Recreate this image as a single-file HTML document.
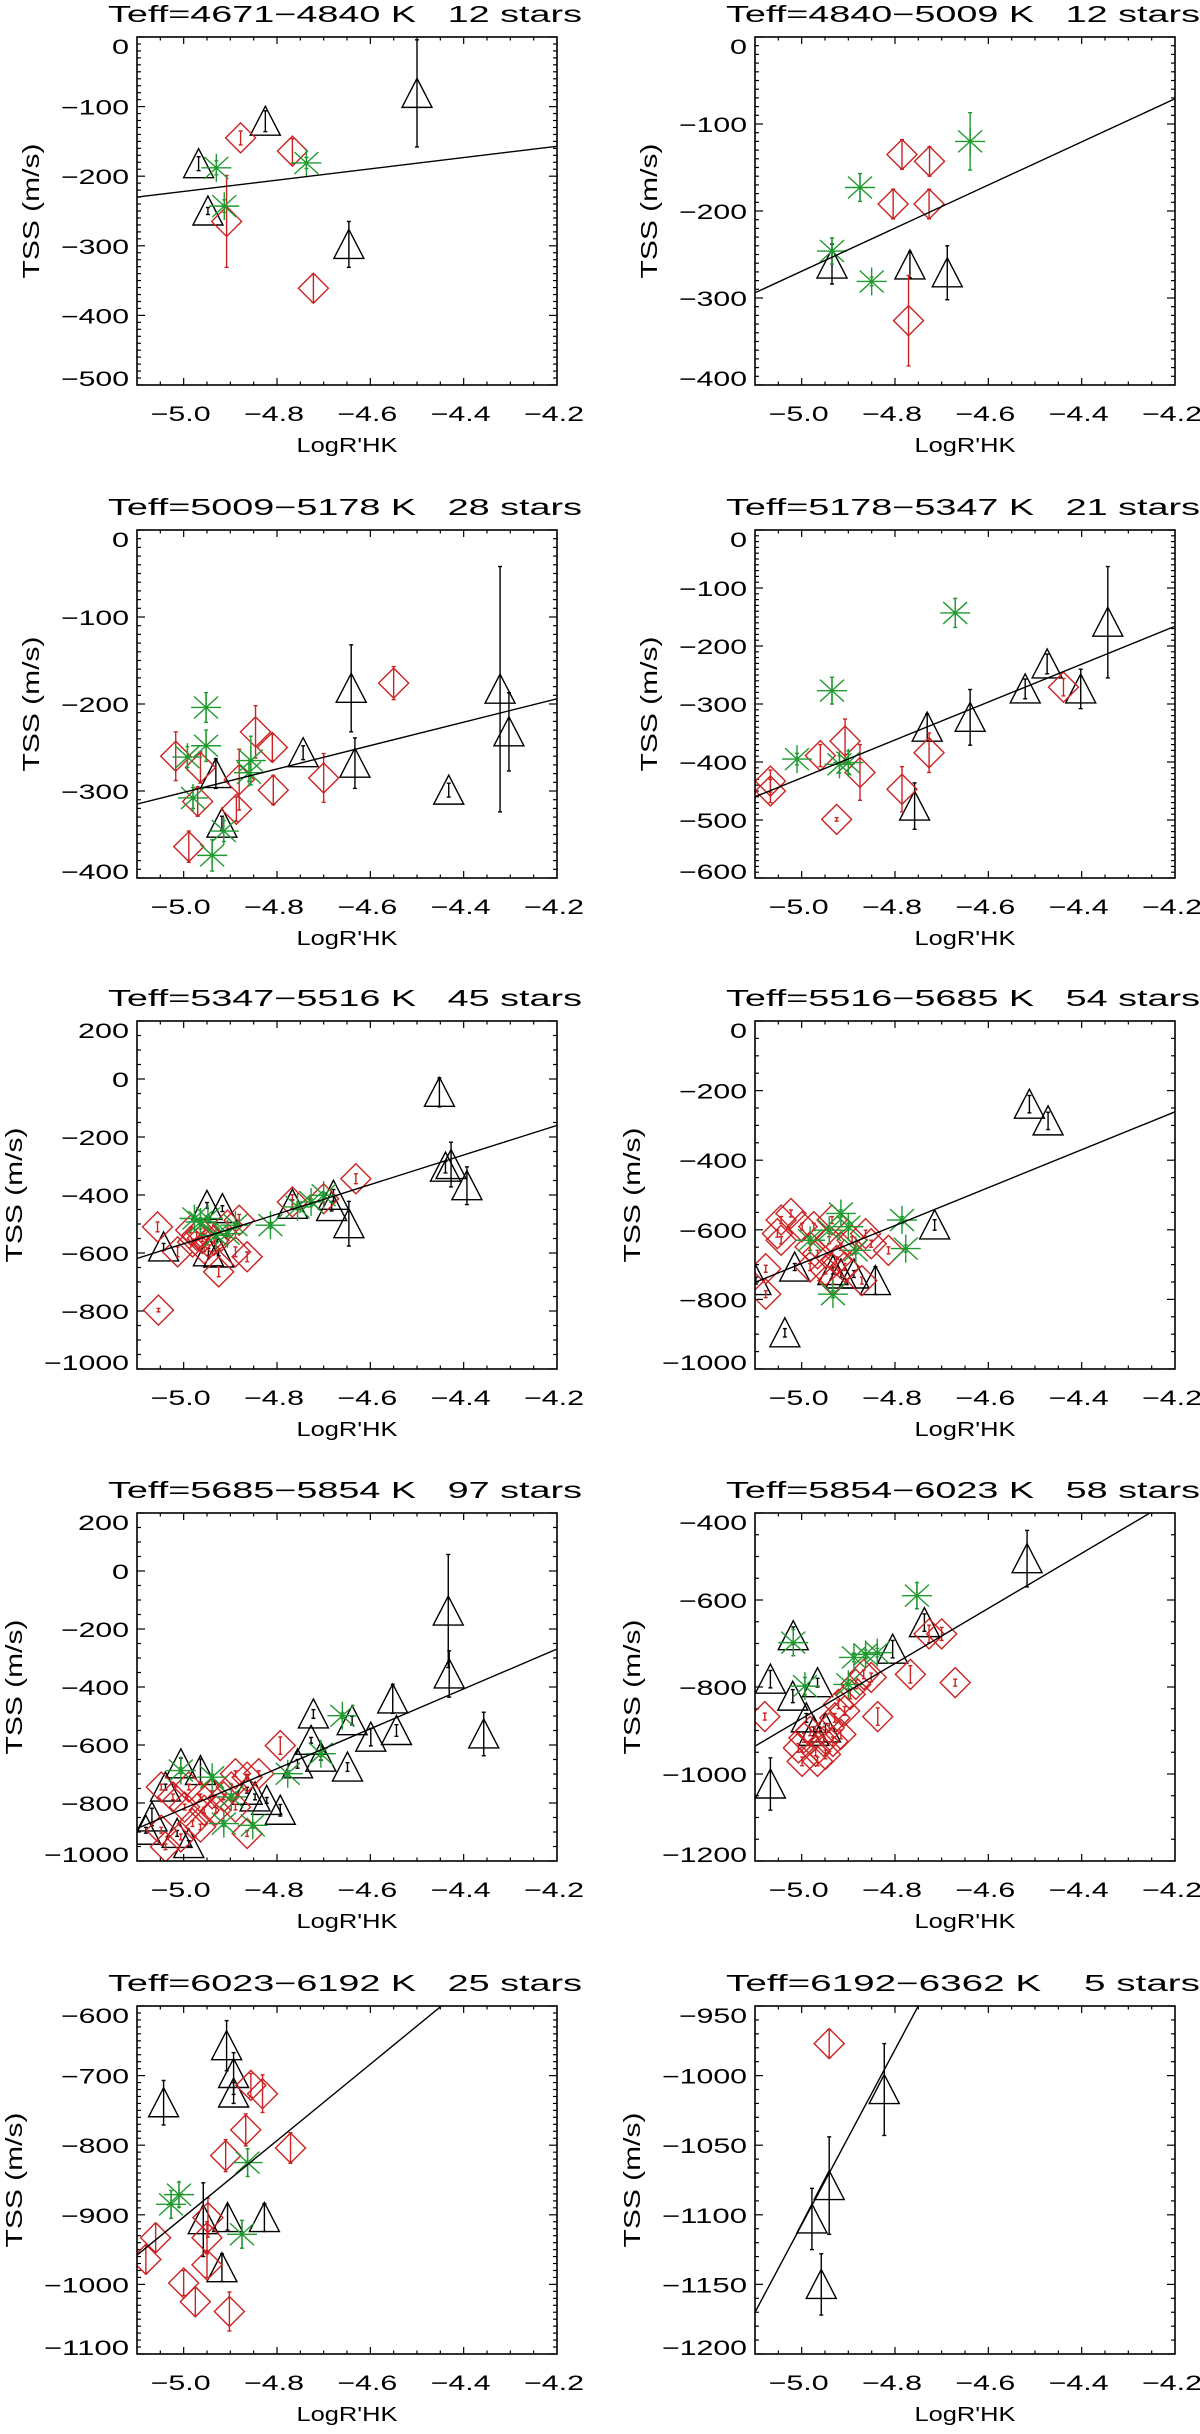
<!DOCTYPE html>
<html><head><meta charset="utf-8"><title>TSS vs LogR'HK by Teff bin</title>
<style>
html,body{margin:0;padding:0;background:#fff;}
svg text{font-family:"Liberation Sans",sans-serif;fill:#000;white-space:pre;}
</style></head>
<body>
<svg id="fig" xmlns="http://www.w3.org/2000/svg" width="1200" height="2429" viewBox="0 0 1200 2429"></svg>
<script>
// ---------- data ----------
const titles = [
 "Teff=4671\u22124840 K   12 stars","Teff=4840\u22125009 K   12 stars",
 "Teff=5009\u22125178 K   28 stars","Teff=5178\u22125347 K   21 stars",
 "Teff=5347\u22125516 K   45 stars","Teff=5516\u22125685 K   54 stars",
 "Teff=5685\u22125854 K   97 stars","Teff=5854\u22126023 K   58 stars",
 "Teff=6023\u22126192 K   25 stars","Teff=6192\u22126362 K    5 stars"];
const yMaxs = [0,0,0,0,200,0,200,-400,-600,-950];
const yMins = [-500,-400,-400,-600,-1000,-1000,-1000,-1200,-1100,-1200];
const ySteps = [100,100,100,100,200,200,200,200,100,50];
const yMinorSteps = [10,10,10,10,50,50,50,50,10,10];
const xTicks = [-5.0,-4.8,-4.6,-4.4,-4.2];
const xTickLabels = ["\u22125.0","\u22124.8","\u22124.6","\u22124.4","\u22124.2"];
const xMin = -5.1, xMax = -4.2;
// fit line: TSS at LogR'HK=-5.1 and at -4.2
const fitAtLeft = [-230,-294,-315,-460,-619,-751,-888,-936,-958,-1170];
const fitAtRight = [-157,-71,-194,-166,-160,-261,-269,-366,-464,-604];

// triangles [x, y, err]
const triangles = [
 [[-4.968,-182,10],[-4.948,-250,5],[-4.825,-121,15],[-4.50,-81,77],[-4.646,-298,33]],
 [[-4.935,-261,23],[-4.768,-262,15],[-4.688,-271,31]],
 [[-4.931,-280,17],[-4.918,-337,8],[-4.744,-256,8],[-4.641,-182,50],[-4.633,-268,29],[-4.432,-299,8],[-4.322,-183,141],[-4.303,-232,45]],
 [[-4.758,-476,40],[-4.731,-340,23],[-4.639,-323,48],[-4.521,-274,17],[-4.474,-231,17],[-4.402,-274,34],[-4.344,-159,96]],
 [[-4.452,-46,50],[-4.439,-304,20],[-4.427,-295,77],[-4.393,-368,65],[-4.646,-499,77],[-4.679,-401,20],[-4.683,-440,15],[-4.767,-432,15],[-5.043,-579,12],[-4.95,-436,10],[-4.917,-447,10],[-4.947,-596,12],[-4.925,-600,10]],
 [[-4.512,-239,25],[-4.472,-287,25],[-4.715,-586,15],[-5.036,-896,12],[-4.842,-746,40],[-5.098,-746,10],[-5.015,-707,10],[-4.916,-727,10],[-4.888,-727,10],[-4.933,-717,10]],
 [[-4.433,-138,195],[-4.431,-355,80],[-4.357,-562,75],[-4.552,-441,50],[-4.544,-550,20],[-4.599,-573,30],[-4.639,-516,15],[-4.722,-493,15],[-4.727,-584,10],[-4.649,-676,15],[-4.756,-665,15],[-4.706,-642,10],[-4.793,-825,20],[-4.822,-791,10],[-4.847,-779,10],[-4.864,-756,10],[-5.006,-665,20],[-5.039,-745,10],[-5.068,-848,30],[-5.081,-894,10],[-4.964,-688,40],[-5.014,-905,10],[-4.989,-940,10]],
 [[-4.517,-505,65],[-4.737,-652,20],[-4.805,-713,20],[-5.018,-682,20],[-5.067,-782,20],[-5.019,-821,15],[-5.067,-1023,60],[-4.966,-790,10],[-4.99,-871,10],[-4.974,-902,10],[-4.949,-894,10]],
 [[-4.908,-657,36],[-4.893,-697,30],[-4.893,-725,15],[-5.043,-739,32],[-4.958,-907,53],[-4.906,-904,18],[-4.827,-904,20],[-4.918,-976,20]],
 [[-4.978,-1103,22],[-4.941,-1079,35],[-4.958,-1150,22],[-4.823,-1010,33]]
];
// diamonds [x, y, err]
const diamonds = [
 [[-4.878,-145,10],[-4.767,-164,18],[-4.908,-265,66],[-4.722,-361,20]],
 [[-4.785,-135,17],[-4.726,-143,17],[-4.804,-192,17],[-4.727,-192,17],[-4.771,-326,52]],
 [[-5.017,-260,28],[-4.964,-273,18],[-4.97,-312,17],[-4.989,-364,18],[-4.881,-287,35],[-4.887,-321,14],[-4.846,-232,30],[-4.81,-250,15],[-4.808,-299,17],[-4.7,-285,28],[-4.55,-176,19]],
 [[-5.067,-433,19],[-5.067,-450,20],[-4.96,-389,19],[-4.907,-364,38],[-4.875,-418,48],[-4.785,-447,39],[-4.727,-384,34],[-4.925,-499,3],[-4.439,-271,15]],
 [[-5.056,-510,17],[-5.013,-596,17],[-5.054,-797,6],[-4.925,-665,17],[-4.864,-613,17],[-4.889,-596,17],[-4.881,-487,20],[-4.631,-344,17],[-4.767,-424,25],[-4.7,-413,15],[-4.985,-521,10],[-4.972,-539,10],[-4.96,-550,10],[-4.948,-562,10],[-4.935,-556,10],[-4.981,-562,10],[-4.956,-585,10],[-4.964,-527,10],[-4.906,-504,10]],
 [[-5.077,-785,10],[-5.077,-712,10],[-5.044,-572,10],[-5.023,-553,10],[-5.044,-630,10],[-5.052,-611,10],[-4.999,-591,10],[-4.974,-591,10],[-4.935,-572,10],[-4.982,-649,10],[-4.966,-669,10],[-4.941,-630,10],[-4.925,-688,10],[-4.949,-717,10],[-4.916,-649,10],[-4.892,-630,10],[-4.863,-611,10],[-4.871,-746,10],[-4.814,-659,10],[-4.982,-707,10],[-4.933,-746,10],[-4.908,-707,10],[-4.851,-640,10]],
 [[-4.793,-602,30],[-5.048,-745,10],[-5.023,-779,10],[-4.989,-745,10],[-4.964,-779,10],[-4.939,-768,10],[-4.914,-779,10],[-4.889,-699,10],[-4.864,-711,10],[-4.839,-699,10],[-4.889,-814,10],[-4.931,-825,10],[-4.981,-871,10],[-5.006,-917,10],[-5.039,-951,10],[-5.048,-894,10],[-4.864,-905,10],[-4.964,-883,10],[-4.998,-814,10],[-4.956,-825,10],[-4.898,-745,10]],
 [[-5.079,-868,8],[-4.837,-868,20],[-4.767,-771,20],[-4.671,-790,8],[-4.727,-678,20],[-4.7,-678,15],[-5.007,-940,10],[-4.995,-917,10],[-4.982,-902,10],[-4.97,-948,10],[-4.966,-971,10],[-4.953,-925,10],[-4.941,-894,10],[-4.929,-871,10],[-4.921,-840,10],[-4.908,-855,10],[-4.896,-817,10],[-4.884,-794,10],[-4.867,-771,10],[-4.851,-778,10],[-4.999,-971,10],[-4.949,-955,10],[-4.933,-925,10],[-4.916,-909,10]],
 [[-4.856,-714,17],[-4.831,-726,27],[-4.867,-778,23],[-4.91,-815,23],[-4.771,-804,22],[-4.948,-904,28],[-4.95,-933,23],[-5.06,-933,20],[-5.081,-964,20],[-4.95,-972,18],[-5.0,-998,18],[-4.975,-1025,20],[-4.902,-1039,28]],
 [[-4.941,-977,10]]
];
// asterisks [x, y, err]
const asterisks = [
 [[-4.93,-188,10],[-4.737,-181,8],[-4.913,-243,9]],
 [[-4.875,-173,16],[-4.85,-281,5],[-4.639,-120,33],[-4.935,-246,15]],
 [[-4.952,-204,17],[-4.952,-248,18],[-4.992,-261,12],[-4.98,-308,12],[-4.914,-346,12],[-4.939,-374,18],[-4.856,-265,28],[-4.86,-279,10]],
 [[-5.01,-395,10],[-4.935,-277,23],[-4.919,-404,15],[-4.9,-401,20],[-4.671,-143,25]],
 [[-4.977,-481,10],[-4.964,-493,10],[-4.948,-481,10],[-4.931,-539,10],[-4.906,-533,10],[-4.889,-504,10],[-4.814,-504,10],[-4.756,-441,10],[-4.727,-424,10],[-4.7,-401,10]],
 [[-4.785,-572,10],[-4.777,-654,10],[-4.933,-785,10],[-4.941,-601,10],[-4.982,-630,10],[-4.9,-591,10],[-4.916,-553,10],[-4.884,-659,10]],
 [[-4.66,-499,10],[-4.706,-630,10],[-4.777,-699,10],[-4.914,-871,10],[-4.852,-877,10],[-5.006,-688,10],[-4.939,-711,10],[-4.898,-779,10]],
 [[-4.753,-590,30],[-5.018,-698,30],[-4.993,-798,20],[-4.888,-732,10],[-4.863,-725,10],[-4.838,-721,10],[-4.9,-794,10]],
 [[-5.01,-871,18],[-5.027,-885,20],[-4.863,-825,20],[-4.875,-928,20]],
 []
];

// ---------- layout ----------
const boxLefts = [137,755];
const boxTops = [37,530,1021,1513,2006];
const BW = 420, BH = 348;
const RED = "#cc2222", GREEN = "#1f9a2e";
const NS = "http://www.w3.org/2000/svg";
const svg = document.getElementById('fig');

function mk(tag, attrs, parent){
  const e = document.createElementNS(NS, tag);
  for (const k in attrs) e.setAttribute(k, attrs[k]);
  parent.appendChild(e);
  return e;
}
function fmt(v){ return v < 0 ? "\u2212" + Math.abs(v) : String(v); }

for (let i = 0; i < 10; i++) {
  const L = boxLefts[i % 2], T = boxTops[Math.floor(i / 2)];
  const yMax = yMaxs[i], yMin = yMins[i];
  const xs = x => L + (x - xMin) / (xMax - xMin) * BW;
  const ys = y => T + (yMax - y) / (yMax - yMin) * BH;

  const g = mk('g', {}, svg);
  
  

  const clipId = 'clip' + i;
  const cp = mk('clipPath', {id: clipId}, g);
  mk('rect', {x: L, y: T, width: BW, height: BH}, cp);

  // title
  const t = mk('text', {x: L + BW / 2 - 2, y: T - 15, 'text-anchor': 'middle', 'font-size': 23, textLength: 474, lengthAdjust: 'spacingAndGlyphs'}, g);
  t.textContent = titles[i];
  
  

  // ticks
  const tk = mk('g', {stroke: '#000', 'stroke-width': 1.2}, g);
  
  
  for (let xv = -5.05; xv <= -4.2001; xv += 0.05) {
    const px = xs(xv);
    const major = Math.abs((xv * 10) - Math.round(xv * 10)) < 1e-6 && Math.round(xv * 10) % 2 === 0;
    const len = major ? 7 : 3.5;
    mk('line', {x1: px, y1: T + BH, x2: px, y2: T + BH - len}, tk);
    mk('line', {x1: px, y1: T, x2: px, y2: T + len}, tk);
  }
  const ySt = ySteps[i], yMi = yMinorSteps[i];
  for (let yv = yMin; yv <= yMax + 1e-6; yv += yMi) {
    const py = ys(yv);
    const major = Math.abs(((yv - yMax) / ySt) - Math.round((yv - yMax) / ySt)) < 1e-6;
    const len = major ? 8 : 4;
    mk('line', {x1: L, y1: py, x2: L + len, y2: py}, tk);
    mk('line', {x1: L + BW, y1: py, x2: L + BW - len, y2: py}, tk);
  }
  // y tick labels
  let maxChars = 0;
  for (let yv = yMax; yv >= yMin - 1e-6; yv -= ySt) {
    let py = ys(yv) + 8;
    if (yv === yMax) py += 9;
    if (Math.abs(yv - yMin) < 1e-6) py -= 7;
    const s = fmt(yv);
    maxChars = Math.max(maxChars, s.length);
    const lab = mk('text', {x: L - 8, y: py, 'text-anchor': 'end', 'font-size': 21, textLength: s.length * 17, lengthAdjust: 'spacingAndGlyphs'}, g);
    lab.textContent = s;
    
    
  }
  // x tick labels
  for (let k = 0; k < xTicks.length; k++) {
    const lab = mk('text', {x: xs(xTicks[k]) - 3, y: T + BH + 36, 'text-anchor': 'middle', 'font-size': 21, textLength: 60, lengthAdjust: 'spacingAndGlyphs'}, g);
    lab.textContent = xTickLabels[k];
    
    
  }
  // axis titles
  const xt = mk('text', {x: L + BW / 2, y: T + BH + 67, 'text-anchor': 'middle', 'font-size': 20, textLength: 101, lengthAdjust: 'spacingAndGlyphs'}, g);
  xt.textContent = "LogR'HK";
  
  
  const ycx = L - 8 - maxChars * 17 - 30;
  const yt = mk('text', {x: ycx + 8, y: T + BH / 2, 'text-anchor': 'middle', 'font-size': 23, textLength: 135, lengthAdjust: 'spacingAndGlyphs', transform: 'rotate(-90 ' + (ycx + 8) + ' ' + (T + BH / 2) + ')'}, g);
  yt.textContent = "TSS (m/s)";
  
  

  // data
  const dg = mk('g', {'clip-path': 'url(#' + clipId + ')', fill: 'none', 'stroke-width': 1.4}, g);
  
  
  function errbar(p, col, parent){
    const cx = xs(p[0]), y1 = ys(p[1] + p[2]), y2 = ys(p[1] - p[2]);
    mk('line', {x1: cx, y1: y1, x2: cx, y2: y2, stroke: col, 'stroke-width': 1.4}, parent);
    mk('line', {x1: cx - 2, y1: y1, x2: cx + 2, y2: y1, stroke: col, 'stroke-width': 1.4}, parent);
    mk('line', {x1: cx - 2, y1: y2, x2: cx + 2, y2: y2, stroke: col, 'stroke-width': 1.4}, parent);
  }
  for (const p of triangles[i]) {
    const cx = xs(p[0]), cy = ys(p[1]);
    const m = mk('polygon', {points: cx + ',' + (cy - 15) + ' ' + (cx + 15) + ',' + (cy + 14) + ' ' + (cx - 15) + ',' + (cy + 14), stroke: '#000'}, dg);
    
    
    errbar(p, '#000', dg);
  }
  for (const p of diamonds[i]) {
    const cx = xs(p[0]), cy = ys(p[1]);
    const m = mk('polygon', {points: cx + ',' + (cy - 15) + ' ' + (cx + 15) + ',' + cy + ' ' + cx + ',' + (cy + 15) + ' ' + (cx - 15) + ',' + cy, stroke: RED}, dg);
    
    
    errbar(p, RED, dg);
  }
  for (const p of asterisks[i]) {
    const cx = xs(p[0]), cy = ys(p[1]);
    const d = 'M' + (cx - 15) + ' ' + cy + 'H' + (cx + 15) + 'M' + cx + ' ' + (cy - 14) + 'V' + (cy + 14) +
              'M' + (cx - 12) + ' ' + (cy - 11) + 'L' + (cx + 12) + ' ' + (cy + 11) +
              'M' + (cx - 12) + ' ' + (cy + 11) + 'L' + (cx + 12) + ' ' + (cy - 11);
    const m = mk('path', {d: d, stroke: GREEN}, dg);
    
    
    errbar(p, GREEN, dg);
  }
  const fl = mk('line', {x1: xs(xMin), y1: ys(fitAtLeft[i]), x2: xs(xMax), y2: ys(fitAtRight[i]), stroke: '#000', 'stroke-width': 1.4}, dg);
  
  

  // frame
  const fr = mk('rect', {x: L, y: T, width: BW, height: BH, fill: 'none', stroke: '#000', 'stroke-width': 1.6}, g);
  
  
}
</script>
</body></html>
